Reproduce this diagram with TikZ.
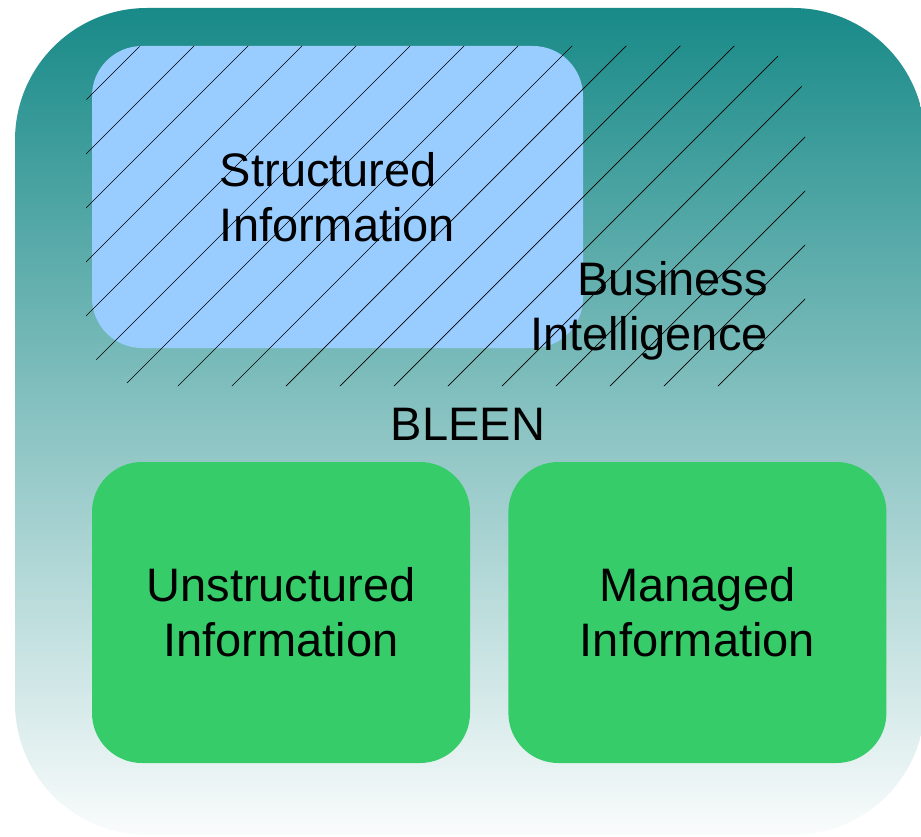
\documentclass[tikz,border=0pt]{standalone}
\usepackage{fontspec}
\setmainfont{Liberation Sans}
\usepackage{tikz}
\usetikzlibrary{positioning}
\usepackage{xcolor}
\definecolor{bleenteal}{RGB}{24,138,136}
\definecolor{bleenfade}{RGB}{250,252,252}
\definecolor{structblue}{RGB}{153,204,255}
\definecolor{infogreen}{RGB}{54,204,105}

\begin{document}
\begin{tikzpicture}[
    x=1pt, y=-1pt,
    outer/.style={rectangle, rounded corners=132pt, minimum width=910pt, minimum height=827pt, inner sep=0pt, top color=bleenteal, bottom color=bleenfade},
    infobox/.style={rectangle, rounded corners=50pt, minimum width=378pt, minimum height=301pt, inner sep=0pt, align=center, fill=infogreen, font=\fontsize{47}{55}\selectfont},
    hatchline/.style={black, line width=0.7pt},
    label/.style={inner sep=0pt, align=center, font=\fontsize{47}{55}\selectfont}
]
\useasboundingbox (0,0) rectangle (921,837);
% Container
\node[outer] (bleen) at (470,421.5) {};
\node[label, anchor=base] (bleentext) at (468,440) {BLEEN};

% Structured part
\node[infobox, fill=structblue, minimum width=491pt, minimum height=302pt, align=left] (struct) at (337.5,197) {Structured\\Information};
\begin{scope}
  \clip[rounded corners=60pt] (86,46) rectangle (805,386);
  \foreach \k in {0,...,18}
    \draw[hatchline] ({186+54*\k},0) -- ({186+54*\k-440},440);
\end{scope}
\node[label, align=right, anchor=north east] (bi) at (768,261) {Business\\Intelligence};

% Lower boxes
\node[infobox] (unstruct) at (281,612.5) {Unstructured\\Information};
\node[infobox, right=38pt of unstruct] (managed) {Managed\\Information};
\end{tikzpicture}
\end{document}
